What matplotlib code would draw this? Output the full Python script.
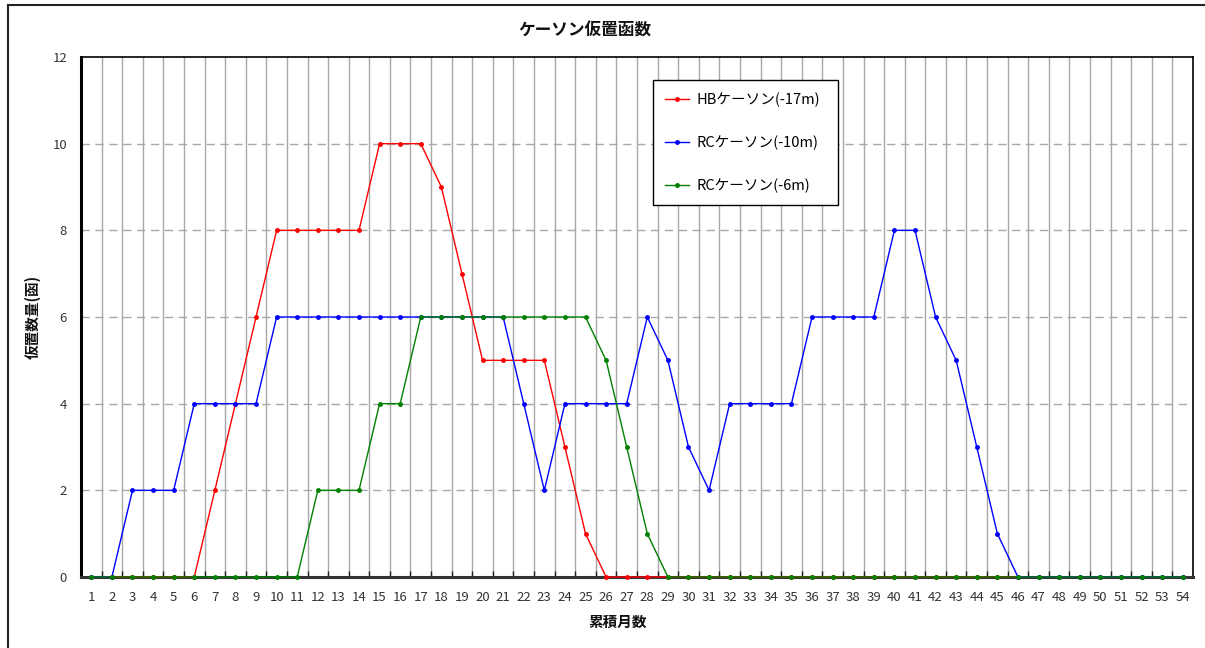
import matplotlib.pyplot as plt
from matplotlib.lines import Line2D

plt.rcParams['font.family'] = ['Noto Sans CJK JP', 'DejaVu Sans']

# 累積月数
months = list(range(1, 55))

# HBケーソン(-17m)
hb_17 = [0, 0, 0, 0, 0, 0, 2, 4, 6, 8, 8, 8, 8, 8, 10, 10, 10, 9, 7, 5,
         5, 5, 5, 3, 1, 0, 0, 0, 0, 0, 0, 0, 0, 0, 0, 0, 0, 0, 0, 0,
         0, 0, 0, 0, 0, 0, 0, 0, 0, 0, 0, 0, 0, 0]
# RCケーソン(-10m)
rc_10 = [0, 0, 2, 2, 2, 4, 4, 4, 4, 6, 6, 6, 6, 6, 6, 6, 6, 6, 6, 6,
         6, 4, 2, 4, 4, 4, 4, 6, 5, 3, 2, 4, 4, 4, 4, 6, 6, 6, 6, 8,
         8, 6, 5, 3, 1, 0, 0, 0, 0, 0, 0, 0, 0, 0]
# RCケーソン(-6m)
rc_6 = [0, 0, 0, 0, 0, 0, 0, 0, 0, 0, 0, 2, 2, 2, 4, 4, 6, 6, 6, 6,
        6, 6, 6, 6, 6, 5, 3, 1, 0, 0, 0, 0, 0, 0, 0, 0, 0, 0, 0, 0,
        0, 0, 0, 0, 0, 0, 0, 0, 0, 0, 0, 0, 0, 0]

series = [
    ('HBケーソン(-17m)', hb_17, '#ff0000'),
    ('RCケーソン(-10m)', rc_10, '#0000ff'),
    ('RCケーソン(-6m)', rc_6, '#008000'),
]

fig = plt.figure(figsize=(12.05, 6.48), dpi=100)
ax = fig.add_axes([81 / 1205, 1 - 577 / 648, 1112 / 1205, 520 / 648])

for label, vals, col in series:
    ax.plot(months, vals, color=col, lw=1.0, marker='o', ms=2.5,
            label=label, zorder=3, clip_on=False)

# category boundaries carry the vertical grid and the x tick marks
ax.set_xlim(0.5, 54.5)
ax.set_xticks(months)
ax.set_xticks([m + 0.5 for m in months[:-1]], minor=True)
ax.tick_params(axis='x', which='major', length=0, labelsize=9.5,
               pad=10, colors='#333333')
ax.tick_params(axis='x', which='minor', direction='in', length=4,
               width=1, color='#222222')
ax.grid(True, axis='x', which='minor', color='#a8a8a8', lw=1.0)

ax.set_ylim(0, 12)
ax.set_yticks(range(0, 13, 2))
ax.tick_params(axis='y', length=0, labelsize=9.5, pad=10, colors='#333333')
for y in range(2, 12, 2):
    ax.axhline(y, color='#a8a8a8', lw=1.0, ls=(0, (6, 4)), zorder=1)

ax.spines['left'].set_linewidth(2.2)
ax.spines['bottom'].set_linewidth(2.2)
ax.spines['bottom'].set_color('#333333')
ax.spines['top'].set_linewidth(1.2)
ax.spines['right'].set_linewidth(1.2)

fig.text(585 / 1205, 1 - 31 / 648, 'ケーソン仮置函数', ha='center',
         va='center', fontsize=12, fontweight='bold', color='#111111')
fig.text(618 / 1205, 1 - 622 / 648, '累積月数', ha='center', va='center',
         fontsize=10.5, fontweight='bold', color='#111111')
fig.text(33 / 1205, 1 - 317 / 648, '仮置数量(函)', ha='center', va='center',
         rotation=90, fontsize=10.5, fontweight='bold', color='#111111')

leg = ax.legend(loc='upper left',
                bbox_to_anchor=(653 / 1205, 1 - 80 / 648, 185 / 1205, 0),
                bbox_transform=fig.transFigure, mode='expand',
                fancybox=False, edgecolor='black', framealpha=1,
                fontsize=10.5, labelspacing=1.95, handlelength=1.6,
                borderpad=0.85, borderaxespad=0, handletextpad=0.5)
leg.get_frame().set_linewidth(1.0)

# outer chart frame
fig.add_artist(Line2D([8 / 1205, 8 / 1205], [0, 1 - 5 / 648],
                      transform=fig.transFigure, color='#222222', lw=1.5))
fig.add_artist(Line2D([8 / 1205, 1], [1 - 5 / 648, 1 - 5 / 648],
                      transform=fig.transFigure, color='#222222', lw=1.5))

plt.savefig('out.png')
